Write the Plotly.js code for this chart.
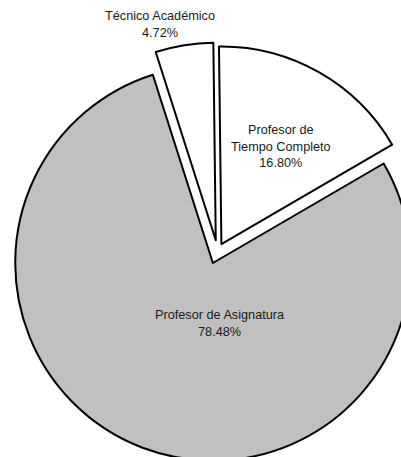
<!DOCTYPE html>
<html>
<head>
<meta charset="utf-8">
<script src="https://cdn.plot.ly/plotly-3.0.1.min.js"></script>
<style>
html, body { margin: 0; padding: 0; overflow: hidden; background: #fff; }
#chart { width: 440px; height: 470px; }
</style>
</head>
<body>
<div id="chart"></div>
<script>
const labels = ["Profesor de<br>Tiempo Completo", "Profesor de Asignatura", "Técnico Académico"];
const values = [16.80, 78.48, 4.72];
const colors = ["#ffffff", "#c0c0c0", "#ffffff"];
const pulls = [0.04, 0.065, 0.055];
// label anchor points (paper fractions) for each slice's text
const labelX = [0.651, 0.506, 0.363];
const labelY = [0.747, 0.329, 1.036];

const total = values.reduce((a, b) => a + b, 0);
const labelFont = { family: "Liberation Sans, Arial, sans-serif", size: 12.7, color: "#1a1a1a" };

const trace = {
  type: "pie",
  labels: labels,
  values: values,
  sort: false,
  direction: "clockwise",
  rotation: -0.7,
  pull: pulls,
  marker: { colors: colors, line: { color: "#000000", width: 2 } },
  textinfo: "none",
  hoverinfo: "skip",
  showlegend: false
};

const annotations = labels.map((lab, i) => ({
  xref: "paper", yref: "paper",
  x: labelX[i], y: labelY[i],
  xanchor: "center", yanchor: "middle",
  text: lab + "<br>" + (values[i] / total * 100).toFixed(2) + "%",
  showarrow: false,
  align: "center",
  font: labelFont
}));

const layout = {
  width: 440,
  height: 470,
  margin: { l: 7, r: 12, t: 40, b: 8, pad: 0 },
  paper_bgcolor: "#ffffff",
  plot_bgcolor: "#ffffff",
  showlegend: false,
  annotations: annotations
};

Plotly.newPlot("chart", [trace], layout, { displayModeBar: false, staticPlot: true });
</script>
</body>
</html>
